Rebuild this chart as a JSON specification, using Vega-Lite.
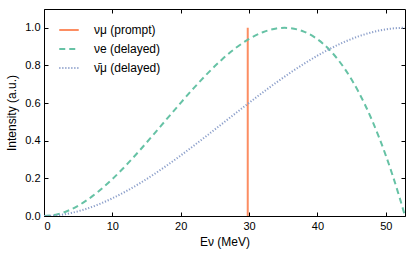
{
  "$schema": "https://vega.github.io/schema/vega-lite/v6.json",
  "width": 361,
  "height": 207,
  "autosize": {"type": "none"},
  "padding": {"left": 44, "top": 9, "right": 10, "bottom": 41},
  "config": {
    "font": "Liberation Sans",
    "view": {"stroke": "black", "strokeWidth": 1},
    "axis": {
      "grid": false,
      "domain": false,
      "tickColor": "black",
      "tickSize": -4,
      "labelColor": "black",
      "labelFontSize": 11,
      "titleColor": "black",
      "titleFontSize": 12,
      "titleFontWeight": "normal"
    }
  },
  "datasets": {
    "spec": [
      {"s": "νμ (prompt)", "E": 29.8, "I": 0},
      {"s": "νμ (prompt)", "E": 29.8, "I": 1},
      {"s": "νe (delayed)", "E": 0, "I": 0},
      {"s": "νe (delayed)", "E": 2, "I": 0.0093},
      {"s": "νe (delayed)", "E": 4, "I": 0.0358},
      {"s": "νe (delayed)", "E": 6, "I": 0.0773},
      {"s": "νe (delayed)", "E": 8, "I": 0.1315},
      {"s": "νe (delayed)", "E": 10, "I": 0.1963},
      {"s": "νe (delayed)", "E": 12, "I": 0.2694},
      {"s": "νe (delayed)", "E": 14, "I": 0.3487},
      {"s": "νe (delayed)", "E": 16, "I": 0.432},
      {"s": "νe (delayed)", "E": 18, "I": 0.5171},
      {"s": "νe (delayed)", "E": 20, "I": 0.6016},
      {"s": "νe (delayed)", "E": 22, "I": 0.6836},
      {"s": "νe (delayed)", "E": 24, "I": 0.7607},
      {"s": "νe (delayed)", "E": 26, "I": 0.8308},
      {"s": "νe (delayed)", "E": 28, "I": 0.8916},
      {"s": "νe (delayed)", "E": 30, "I": 0.941},
      {"s": "νe (delayed)", "E": 32, "I": 0.9767},
      {"s": "νe (delayed)", "E": 34, "I": 0.9966},
      {"s": "νe (delayed)", "E": 35.2, "I": 1.0},
      {"s": "νe (delayed)", "E": 36, "I": 0.9984},
      {"s": "νe (delayed)", "E": 38, "I": 0.98},
      {"s": "νe (delayed)", "E": 40, "I": 0.9392},
      {"s": "νe (delayed)", "E": 42, "I": 0.8736},
      {"s": "νe (delayed)", "E": 44, "I": 0.7813},
      {"s": "νe (delayed)", "E": 46, "I": 0.6598},
      {"s": "νe (delayed)", "E": 48, "I": 0.5071},
      {"s": "νe (delayed)", "E": 50, "I": 0.321},
      {"s": "νe (delayed)", "E": 52, "I": 0.0992},
      {"s": "νe (delayed)", "E": 52.8, "I": 0},
      {"s": "ν̄μ (delayed)", "E": 0, "I": 0},
      {"s": "ν̄μ (delayed)", "E": 2, "I": 0.0042},
      {"s": "ν̄μ (delayed)", "E": 4, "I": 0.0163},
      {"s": "ν̄μ (delayed)", "E": 6, "I": 0.0358},
      {"s": "ν̄μ (delayed)", "E": 8, "I": 0.0619},
      {"s": "ν̄μ (delayed)", "E": 10, "I": 0.094},
      {"s": "ν̄μ (delayed)", "E": 12, "I": 0.1315},
      {"s": "ν̄μ (delayed)", "E": 14, "I": 0.1736},
      {"s": "ν̄μ (delayed)", "E": 16, "I": 0.2198},
      {"s": "ν̄μ (delayed)", "E": 18, "I": 0.2694},
      {"s": "ν̄μ (delayed)", "E": 20, "I": 0.3217},
      {"s": "ν̄μ (delayed)", "E": 22, "I": 0.3762},
      {"s": "ν̄μ (delayed)", "E": 24, "I": 0.432},
      {"s": "ν̄μ (delayed)", "E": 26, "I": 0.4886},
      {"s": "ν̄μ (delayed)", "E": 28, "I": 0.5454},
      {"s": "ν̄μ (delayed)", "E": 30, "I": 0.6016},
      {"s": "ν̄μ (delayed)", "E": 32, "I": 0.6567},
      {"s": "ν̄μ (delayed)", "E": 34, "I": 0.7099},
      {"s": "ν̄μ (delayed)", "E": 36, "I": 0.7607},
      {"s": "ν̄μ (delayed)", "E": 38, "I": 0.8083},
      {"s": "ν̄μ (delayed)", "E": 40, "I": 0.8522},
      {"s": "ν̄μ (delayed)", "E": 42, "I": 0.8916},
      {"s": "ν̄μ (delayed)", "E": 44, "I": 0.9259},
      {"s": "ν̄μ (delayed)", "E": 46, "I": 0.9545},
      {"s": "ν̄μ (delayed)", "E": 48, "I": 0.9767},
      {"s": "ν̄μ (delayed)", "E": 50, "I": 0.9919},
      {"s": "ν̄μ (delayed)", "E": 52, "I": 0.9993},
      {"s": "ν̄μ (delayed)", "E": 52.8, "I": 1.0}
    ]
  },
  "data": {"name": "spec"},
  "layer": [
    {
      "mark": {"type": "line", "clip": true, "interpolate": "monotone"},
      "encoding": {
        "x": {
          "field": "E", "type": "quantitative",
          "scale": {"domain": [0, 52.8], "nice": false, "zero": false},
          "axis": {"values": [0, 10, 20, 30, 40, 50], "title": "Eν (MeV)", "labelPadding": 8, "titlePadding": 5}
        },
        "y": {
          "field": "I", "type": "quantitative",
          "scale": {"domain": [0, 1.1], "nice": false},
          "axis": {"values": [0, 0.2, 0.4, 0.6, 0.8, 1.0], "format": ".1f", "title": "Intensity (a.u.)", "labelPadding": 8, "titlePadding": 6}
        },
        "color": {
          "field": "s", "type": "nominal",
          "scale": {"domain": ["νμ (prompt)", "νe (delayed)", "ν̄μ (delayed)"], "range": ["#fc8d62", "#66c2a5", "#8da0cb"]},
          "legend": {
            "title": null, "orient": "none", "legendX": 14, "legendY": 10, "padding": 0,
            "symbolType": "stroke", "symbolSize": 380, "rowPadding": 2,
            "labelFontSize": 12, "labelColor": "black", "labelOffset": 14
          }
        },
        "strokeDash": {
          "field": "s", "type": "nominal",
          "scale": {"domain": ["νμ (prompt)", "νe (delayed)", "ν̄μ (delayed)"], "range": [[1, 0], [6, 4], [1.2, 1.8]]},
          "legend": {"title": null}
        },
        "strokeWidth": {
          "field": "s", "type": "nominal",
          "scale": {"domain": ["νμ (prompt)", "νe (delayed)", "ν̄μ (delayed)"], "range": [2, 2, 1.5]},
          "legend": {"title": null}
        }
      }
    },
    {
      "mark": {"type": "point", "opacity": 0},
      "encoding": {
        "x": {"field": "E", "type": "quantitative", "axis": {"orient": "top", "values": [0, 10, 20, 30, 40, 50], "labels": false, "title": null}},
        "y": {"field": "I", "type": "quantitative", "axis": {"orient": "right", "values": [0, 0.2, 0.4, 0.6, 0.8, 1.0], "labels": false, "title": null}}
      }
    }
  ],
  "resolve": {"axis": {"x": "independent", "y": "independent"}}
}
